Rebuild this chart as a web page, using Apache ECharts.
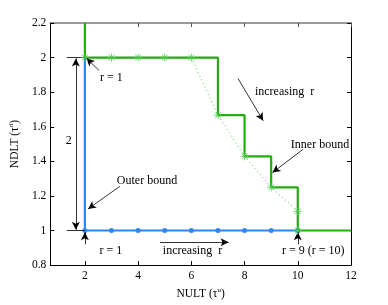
<!DOCTYPE html>
<html><head><meta charset="utf-8">
<script src="https://cdn.jsdelivr.net/npm/echarts@6/dist/echarts.min.js"></script>
<style>html,body{margin:0;padding:0;background:#fff}#c{width:388px;height:305px}</style>
</head><body><div id="c"></div>
<script>
// ---- data ----
const xTicks = [2, 4, 6, 8, 10, 12];
const yTicks = [0.8, 1, 1.2, 1.4, 1.6, 1.8, 2, 2.2];
const outerX = [2, 2, 3, 4, 5, 6, 7, 8, 9, 10];
const outerY = [2, 1, 1, 1, 1, 1, 1, 1, 1, 1];
const innerStepX = [2, 2, 7, 7, 8, 8, 9, 9, 10, 10, 12];
const innerStepY = [2.2, 2, 2, 1.667, 1.667, 1.429, 1.429, 1.25, 1.25, 1, 1];
const innerPtsX = [2, 3, 4, 5, 6, 7, 8, 9, 10, 10];
const innerPtsY = [2, 2, 2, 2, 2, 1.667, 1.429, 1.25, 1.111, 1];
const curveX = [6, 7, 8, 9, 10];
const curveY = [2, 1.667, 1.429, 1.25, 1.111];

// ---- annotations (data coordinates) ----
const annTexts = [
  { t: 'r = 1', x: 2.57, y: 1.885 },
  { t: 'r = 1', x: 2.55, y: 0.885 },
  { t: '2', x: 1.28, y: 1.52 },
  { t: 'Outer bound', x: 3.2, y: 1.285 },
  { t: 'increasing  r', x: 4.93, y: 0.885 },
  { t: 'increasing  r', x: 8.39, y: 1.80 },
  { t: 'Inner bound', x: 9.74, y: 1.495 },
  { t: 'r = 9 (r = 10)', x: 9.41, y: 0.885 }
];
const annArrows = [ // [x1,y1,x2,y2,startSym,endSym]
  [1.32, 2, 2, 2, 'none', 'none'],
  [1.32, 1, 2, 1, 'none', 'none'],
  [1.66, 1.005, 1.66, 1.995, 'arrow', 'arrow'],
  [2.53, 1.926, 2.06, 1.996, 'none', 'arrow'],
  [2, 0.92, 2, 0.99, 'none', 'arrow'],
  [3.32, 1.256, 2.12, 1.125, 'none', 'arrow'],
  [4.82, 0.932, 7.4, 0.932, 'none', 'arrow'],
  [7.75, 1.88, 8.7, 1.635, 'none', 'arrow'],
  [10.2, 1.47, 9.05, 1.335, 'none', 'arrow'],
  [10, 0.92, 10, 0.99, 'none', 'arrow']
];

const FONT = '"Liberation Serif", "DejaVu Serif", serif';
const BLUE = '#2f86f6';
const GREEN = '#1fae0a';
const LGREEN = '#4cc94c';
const zip = (a, b) => a.map((v, i) => [v, b[i]]);
const star = 'path://M0,-5L0,5M-5,0L5,0M-3.6,-3.6L3.6,3.6M-3.6,3.6L3.6,-3.6';

const chart = echarts.init(document.getElementById('c'), null, { renderer: 'canvas' });

const axisCommon = {
  type: 'value',
  axisTick: { inside: true, length: 4, lineStyle: { color: '#000', width: 1 } },
  splitLine: { show: false }
};

chart.setOption({
  animation: false,
  backgroundColor: '#fff',
  grid: { left: 50, right: 37, top: 23, bottom: 35 },
  xAxis: [
    Object.assign({}, axisCommon, {
      min: 0.7, max: 12, position: 'bottom',
      axisLine: { lineStyle: { color: '#000', width: 1 } },
      axisTick: { inside: true, length: 4, customValues: xTicks, lineStyle: { color: '#000' } },
      axisLabel: { customValues: xTicks, color: '#000', fontFamily: FONT, fontSize: 11.5, margin: 5 },
      name: 'NULT (τ{sup|u})', nameLocation: 'middle', nameGap: 18,
      nameTextStyle: { color: '#000', fontFamily: FONT, fontSize: 11.5,
        rich: { sup: { fontSize: 7, fontFamily: FONT, color: '#000', padding: [0, 0, 7, 0] } } }
    }),
    Object.assign({}, axisCommon, {
      min: 0.7, max: 12, position: 'top',
      axisLine: { lineStyle: { color: '#7a7a7a', width: 1.5 } },
      axisTick: { inside: true, length: 4, customValues: xTicks, lineStyle: { color: '#555' } },
      axisLabel: { show: false }
    })
  ],
  yAxis: [
    Object.assign({}, axisCommon, {
      min: 0.8, max: 2.2, interval: 0.2, position: 'left',
      axisLine: { show: true, lineStyle: { color: '#000', width: 1 } },
      axisLabel: { color: '#000', fontFamily: FONT, fontSize: 11.5, margin: 4,
        formatter: v => String(Math.round(v * 10) / 10) },
      name: 'NDLT (τ{sup|d})', nameLocation: 'middle', nameGap: 27, nameRotate: 90,
      nameTextStyle: { color: '#000', fontFamily: FONT, fontSize: 11.5,
        rich: { sup: { fontSize: 7, fontFamily: FONT, color: '#000', padding: [0, 0, 7, 0] } } }
    }),
    Object.assign({}, axisCommon, {
      min: 0.8, max: 2.2, interval: 0.2, position: 'right',
      axisLine: { show: true, lineStyle: { color: '#000', width: 1 } },
      axisLabel: { show: false }
    })
  ],
  series: [
    {
      type: 'line', data: zip(curveX, curveY), symbol: 'none',
      lineStyle: { color: LGREEN, width: 1, type: [1, 3] }, z: 2
    },
    {
      type: 'line',
      data: zip(outerX, outerY).map((p, i) => i === 0 ? { value: p, symbol: 'none' } : p),
      symbol: 'circle', symbolSize: 5, showSymbol: true,
      itemStyle: { color: BLUE }, lineStyle: { color: BLUE, width: 2.2 }, z: 3
    },
    {
      type: 'line', data: zip(innerStepX, innerStepY), symbol: 'none',
      lineStyle: { color: GREEN, width: 2.2 }, z: 4,
      markLine: {
        silent: true, animation: false, symbolSize: [6, 8],
        label: { show: false },
        lineStyle: { color: '#000', width: 0.8, type: 'solid' },
        emphasis: { disabled: true },
        data: annArrows.map(a => [
          { coord: [a[0], a[1]], symbol: a[4] },
          { coord: [a[2], a[3]], symbol: a[5] }
        ])
      }
    },
    {
      type: 'scatter', data: zip(innerPtsX, innerPtsY), symbol: star, symbolSize: 8,
      itemStyle: { color: LGREEN, borderColor: LGREEN, borderWidth: 1 }, z: 5
    }
  ]
});

const g = annTexts.map(a => {
  const p = chart.convertToPixel({ gridIndex: 0 }, [a.x, a.y]);
  return {
    type: 'text', x: p[0], y: p[1], silent: true, z: 100,
    style: { text: a.t, fill: '#000', font: '12px ' + FONT, textAlign: 'left', textVerticalAlign: 'middle', verticalAlign: 'middle' }
  };
});
chart.setOption({ graphic: g });
</script>
</body></html>
